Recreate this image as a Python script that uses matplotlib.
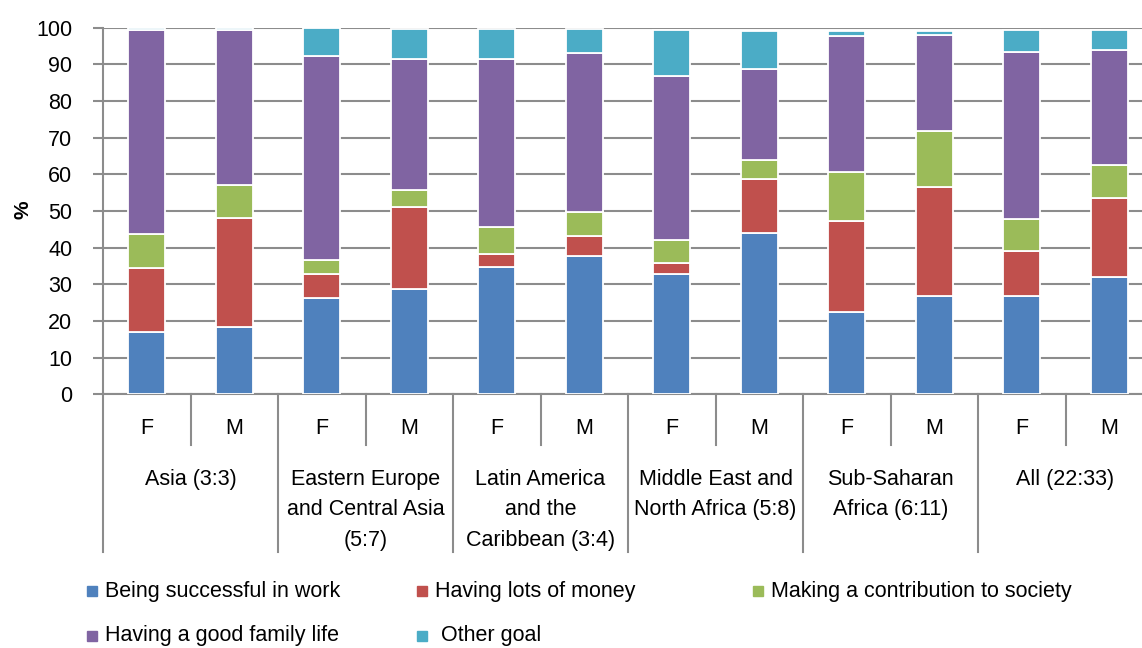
import matplotlib
matplotlib.use("Agg")
import matplotlib.pyplot as plt
import matplotlib.transforms as mtransforms
from matplotlib.patches import Rectangle
import numpy as np

plt.rcParams['font.family'] = ['Liberation Sans', 'DejaVu Sans']

# data: F/M pairs per region
regions = ["Asia (3:3)", "Eastern Europe\nand Central Asia\n(5:7)",
           "Latin America\nand the\nCaribbean (3:4)", "Middle East and\nNorth Africa (5:8)",
           "Sub-Saharan\nAfrica (6:11)", "All (22:33)"]
sexes = ["F", "M"] * 6
series = ["Being successful in work", "Having lots of money",
          "Making a contribution to society", "Having a good family life", "Other goal"]
success = [16.9, 18.3, 26.3, 28.6, 34.6, 37.7, 32.7, 43.9, 22.4, 26.7, 26.7, 31.9]
money = [17.6, 29.7, 6.4, 22.6, 3.7, 5.6, 3.2, 14.9, 24.8, 29.8, 12.4, 21.6]
society = [9.3, 9.1, 4.0, 4.6, 7.2, 6.3, 6.1, 5.2, 13.4, 15.2, 8.6, 9.0]
family = [55.7, 42.2, 55.6, 35.7, 45.9, 43.5, 44.7, 24.8, 37.0, 26.2, 45.7, 31.4]
other = [0.3, 0.5, 7.5, 8.1, 8.2, 6.5, 12.6, 10.4, 1.6, 1.2, 6.1, 5.5]
colors = ["#4F81BD", "#C0504D", "#9BBB59", "#8064A2", "#4BACC6"]

fs = 15.5
fig = plt.figure(figsize=(11.42, 6.48), dpi=100)
ax = fig.add_axes([103/1142, (648-394.3)/648, 1039/1142, 366.6/648])

x = np.arange(len(sexes))
bottom = np.zeros(len(sexes))
for vals, col in zip([success, money, society, family, other], colors):
    ax.bar(x, vals, 0.42, bottom=bottom, color=col, edgecolor="white", linewidth=1.3, zorder=3)
    bottom += np.array(vals)

grid_col = "#8C8C8C"
ax.set_ylim(0, 100)
ax.set_xlim(-0.5, 11.374)
ax.set_yticks(np.arange(0, 101, 10))
ax.yaxis.grid(True, color=grid_col, linewidth=1.5, zorder=0)
for s in ["top", "right"]:
    ax.spines[s].set_visible(False)
ax.spines["left"].set_color(grid_col)
ax.spines["left"].set_linewidth(1.5)
ax.spines["bottom"].set_color(grid_col)
ax.spines["bottom"].set_linewidth(1.5)
ax.tick_params(axis="y", direction="out", length=7, width=1.5, color=grid_col,
               labelsize=fs, pad=15)
ax.set_xticks(x)
ax.set_xticklabels(sexes, fontsize=fs)
ax.tick_params(axis="x", length=0, pad=17)
ax.set_ylabel("%", fontsize=15, fontweight="bold")
ax.yaxis.set_label_coords(-0.068, 0.503)

# multi-level category axis
trans = mtransforms.blended_transform_factory(ax.transData, ax.transAxes)
for i in range(13):
    xp = i - 0.5
    low = -0.43 if i % 2 == 0 else -0.138
    ax.plot([xp, xp], [0, low], color=grid_col, lw=1.5, transform=trans, clip_on=False)
for g, name in enumerate(regions):
    ax.text(2 * g + 0.5, -0.203, name, transform=trans, ha="center", va="top",
            fontsize=fs, linespacing=1.6)

# legend
legend_pos = [(92, 591), (422, 591), (758, 591), (92, 636), (422, 636)]
for (px, py), name, col in zip(legend_pos, series, colors):
    fig.patches.append(Rectangle((px/1142 - 5/1142, 1 - py/648 - 5/648), 10/1142, 10/648,
                                 transform=fig.transFigure, color=col))
    label = " " + name if name == "Other goal" else name
    fig.text(px/1142 + 13/1142, 1 - py/648, label, ha="left", va="center", fontsize=fs)

fig.savefig("out.png", dpi=100)
